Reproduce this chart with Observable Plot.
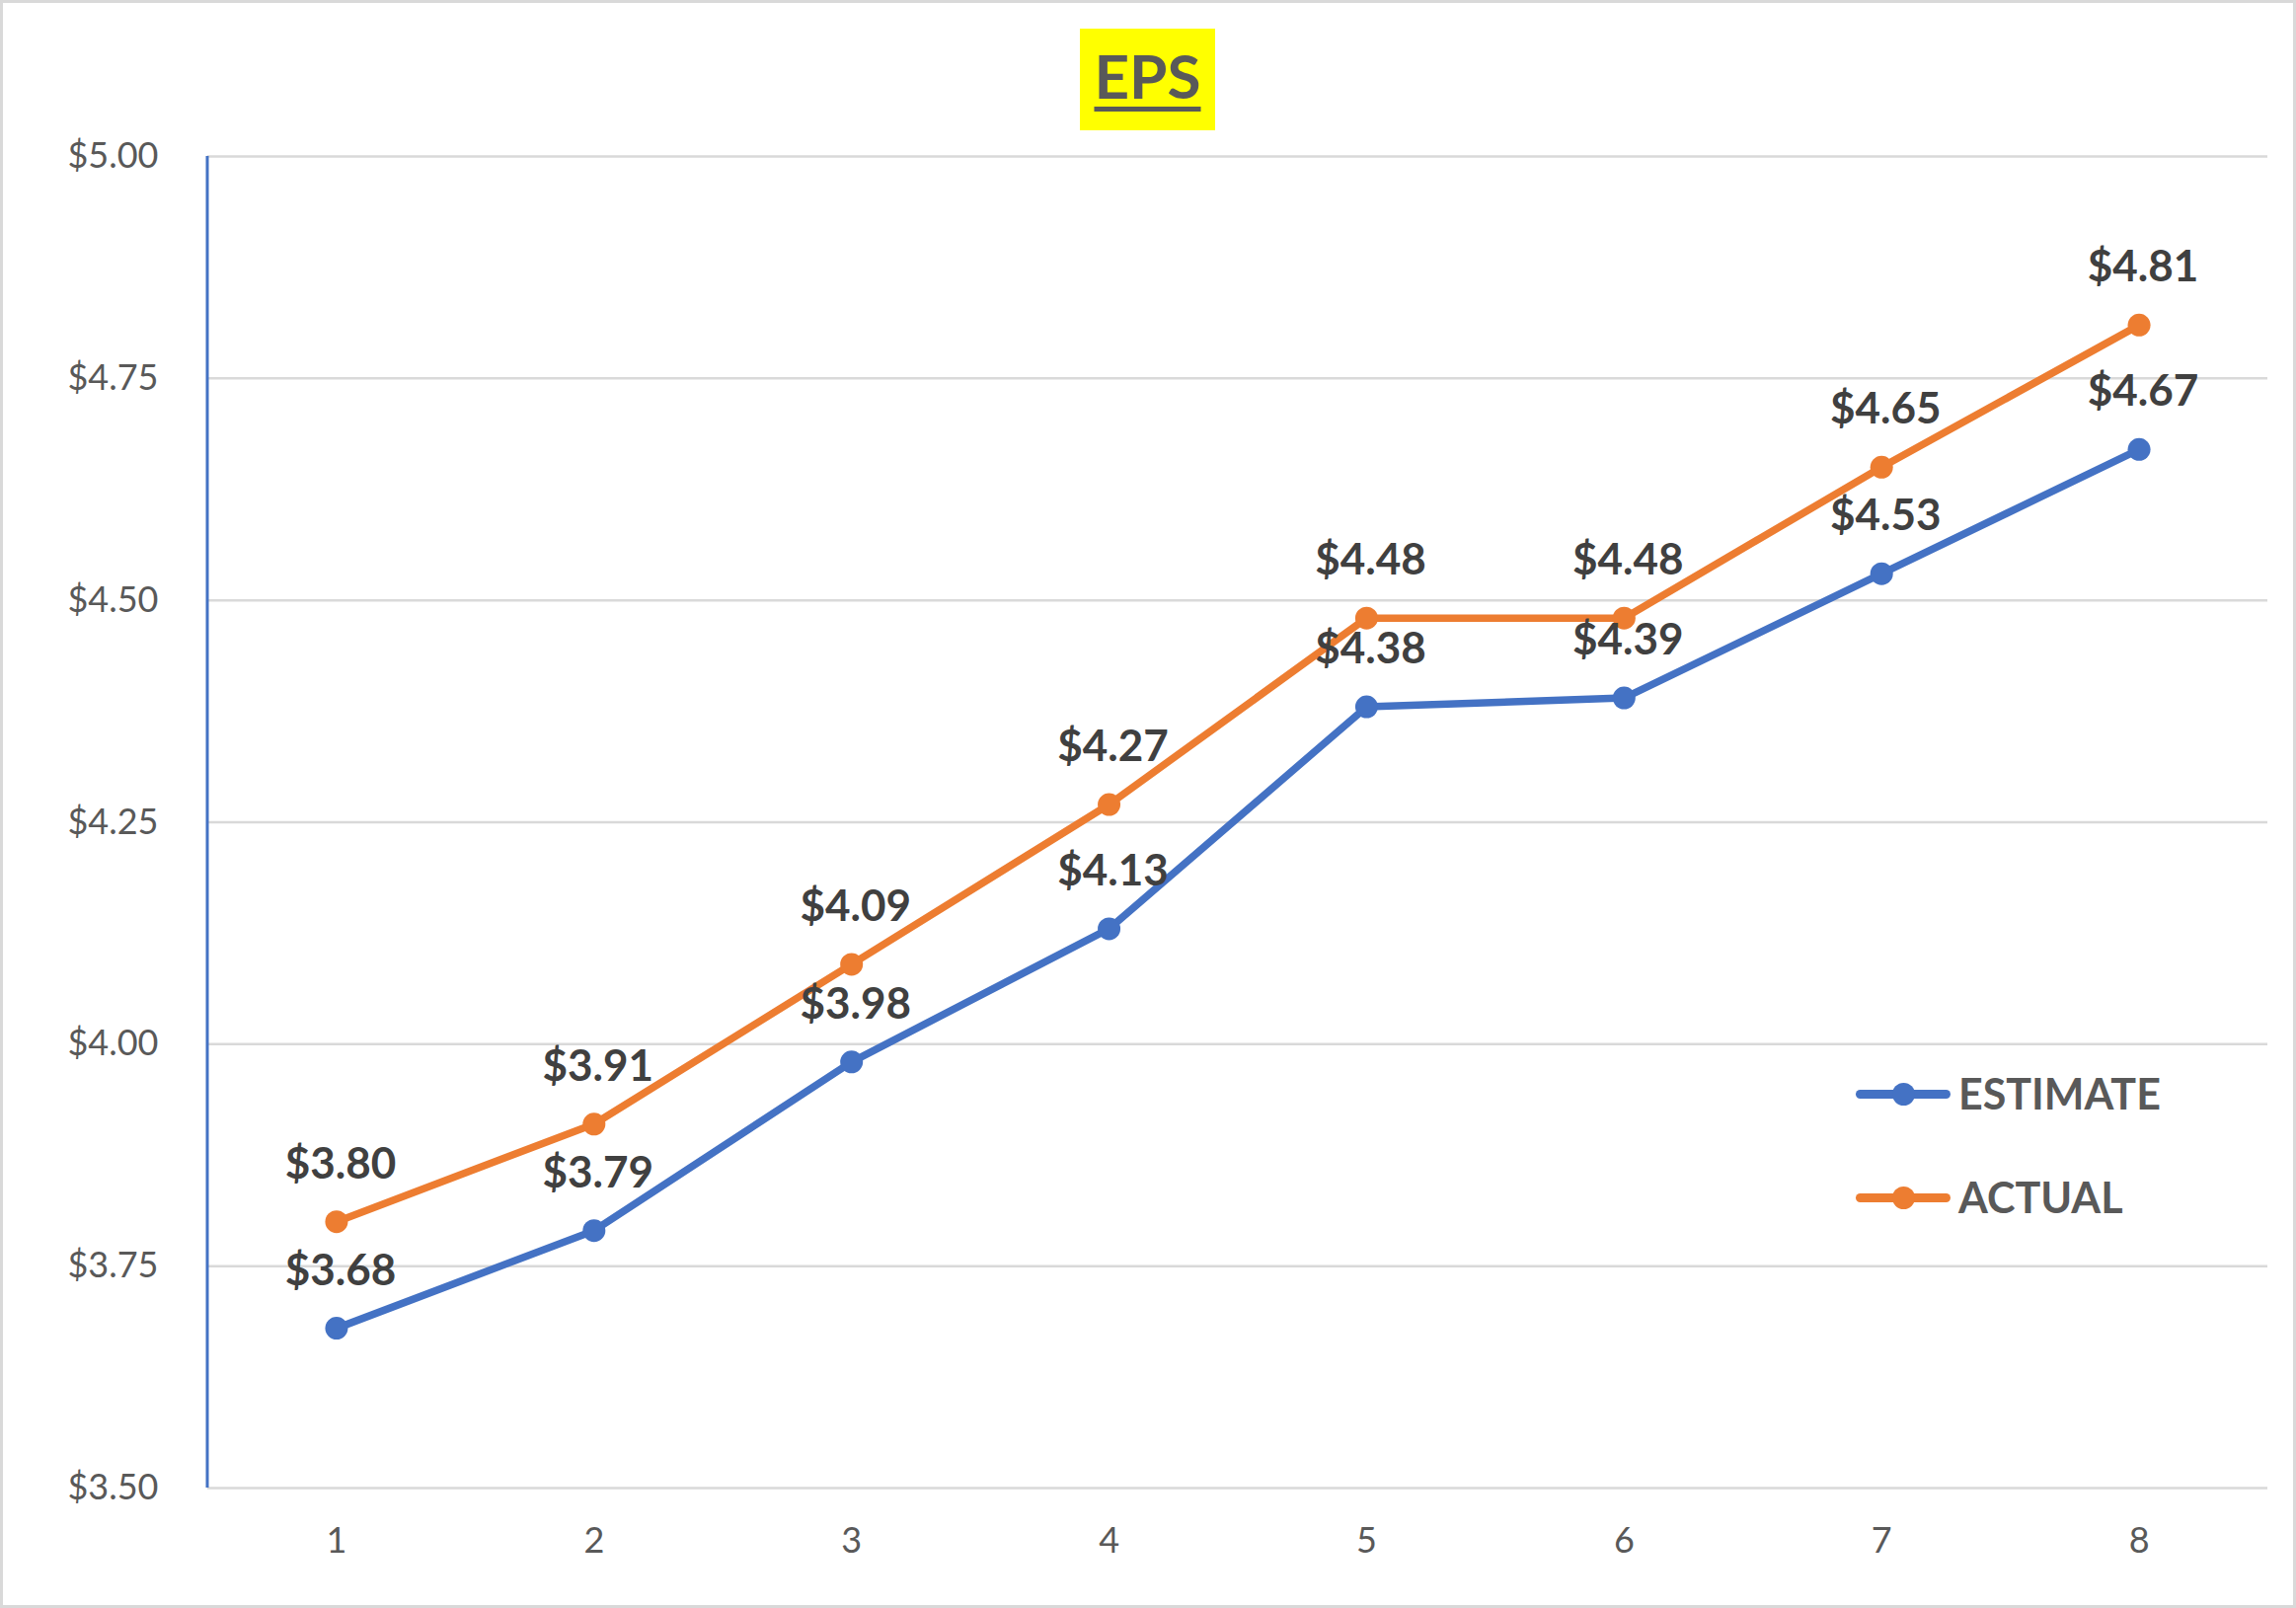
<!DOCTYPE html>
<html><head><meta charset="utf-8">
<script src="https://cdn.jsdelivr.net/npm/d3@7"></script>
<script src="https://cdn.jsdelivr.net/npm/@observablehq/plot@0.6"></script>
<style>
html,body{margin:0;padding:0;background:#fff;}
#wrap{position:relative;width:2326px;height:1629px;overflow:hidden;font-family:Lato,"Open Sans",sans-serif;}
#chart{position:absolute;left:0;top:0;}
#border{position:absolute;left:0;top:0;width:2326px;height:1629px;box-sizing:border-box;border:3px solid #d9d9d9;pointer-events:none;}
#title{position:absolute;left:1094px;top:29px;width:137px;height:103px;background:#ffff00;color:#595959;font-weight:bold;font-size:62px;line-height:103px;text-align:center;}
#title span{text-decoration:underline;text-decoration-thickness:5px;text-underline-offset:8px;position:relative;top:-4px;}
.leg{position:absolute;left:1880px;height:40px;display:flex;align-items:center;}
.leg .sw{position:relative;width:96px;height:40px;}
.leg .sw .ln{position:absolute;left:0;top:15.5px;width:96px;height:9px;border-radius:5px;}
.leg .sw .dt{position:absolute;left:36.5px;top:8.5px;width:23px;height:23px;border-radius:50%;}
.leg .tx{margin-left:8px;font-weight:bold;font-size:43px;color:#595959;line-height:40px;}
</style>
</head><body>
<div id="wrap">
  <div id="chart"></div>
  <div id="title"><span>EPS</span></div>
  <div id="legend"></div>
  <div id="border"></div>
</div>
<script>
const periods = [1, 2, 3, 4, 5, 6, 7, 8];
const estimate = [3.68, 3.79, 3.98, 4.13, 4.38, 4.39, 4.53, 4.67];
const actual = [3.80, 3.91, 4.09, 4.27, 4.48, 4.48, 4.65, 4.81];
const yTicks = [3.50, 3.75, 4.00, 4.25, 4.50, 4.75, 5.00];
const seriesNames = ["ESTIMATE", "ACTUAL"];
const seriesColors = ["#4472C4", "#ED7D31"];

const estRows = periods.map((p, i) => ({period: p, value: estimate[i]}));
const actRows = periods.map((p, i) => ({period: p, value: actual[i]}));
const fmt = v => "$" + v.toFixed(2);

const yAxisLine = (index, scales, values, dimensions) => {
  const svg = d3.create("svg:line")
    .attr("x1", dimensions.marginLeft)
    .attr("x2", dimensions.marginLeft)
    .attr("y1", scales.y(yTicks[yTicks.length - 1]))
    .attr("y2", scales.y(yTicks[0]))
    .attr("stroke", "#4472C4")
    .attr("stroke-width", 3);
  return svg.node();
};

const chart = Plot.plot({
  width: 2326,
  height: 1629,
  marginLeft: 210,
  marginRight: 29,
  marginTop: 158,
  marginBottom: 122,
  style: {fontFamily: "Lato, 'Open Sans', sans-serif", fontSize: "36px", color: "#595959", background: "transparent"},
  x: {type: "point", domain: periods, padding: 0.5, round: false},
  y: {domain: [3.5, 5], ticks: yTicks},
  marks: [
    Plot.gridY(yTicks, {stroke: "#d9d9d9", strokeOpacity: 1, strokeWidth: 2.5}),
    Plot.axisY(yTicks, {tickSize: 0, tickPadding: 50, tickFormat: fmt, fill: "#595959", label: null}),
    Plot.axisX(periods, {tickSize: 0, tickPadding: 40, fill: "#595959", label: null}),
    yAxisLine,
    Plot.line(estRows, {x: "period", y: "value", stroke: seriesColors[0], strokeWidth: 7.5, strokeLinejoin: "round", strokeLinecap: "round"}),
    Plot.line(actRows, {x: "period", y: "value", stroke: seriesColors[1], strokeWidth: 7.5, strokeLinejoin: "round", strokeLinecap: "round"}),
    Plot.dot(estRows, {x: "period", y: "value", r: 11.5, fill: seriesColors[0], stroke: "none"}),
    Plot.dot(actRows, {x: "period", y: "value", r: 11.5, fill: seriesColors[1], stroke: "none"}),
    Plot.text(estRows, {x: "period", y: "value", text: d => fmt(d.value), dy: -58, dx: 4, fontWeight: "bold", fontSize: 44, fill: "#404040"}),
    Plot.text(actRows, {x: "period", y: "value", text: d => fmt(d.value), dy: -58, dx: 4, fontWeight: "bold", fontSize: 44, fill: "#404040"})
  ]
});
document.getElementById("chart").appendChild(chart);

const legendTops = [1088, 1193];
const legend = document.getElementById("legend");
seriesNames.forEach((name, i) => {
  const row = document.createElement("div");
  row.className = "leg";
  row.style.top = legendTops[i] + "px";
  row.innerHTML = `<div class="sw"><div class="ln" style="background:${seriesColors[i]}"></div><div class="dt" style="background:${seriesColors[i]}"></div></div><div class="tx">${name}</div>`;
  legend.appendChild(row);
});
</script>
</body></html>
